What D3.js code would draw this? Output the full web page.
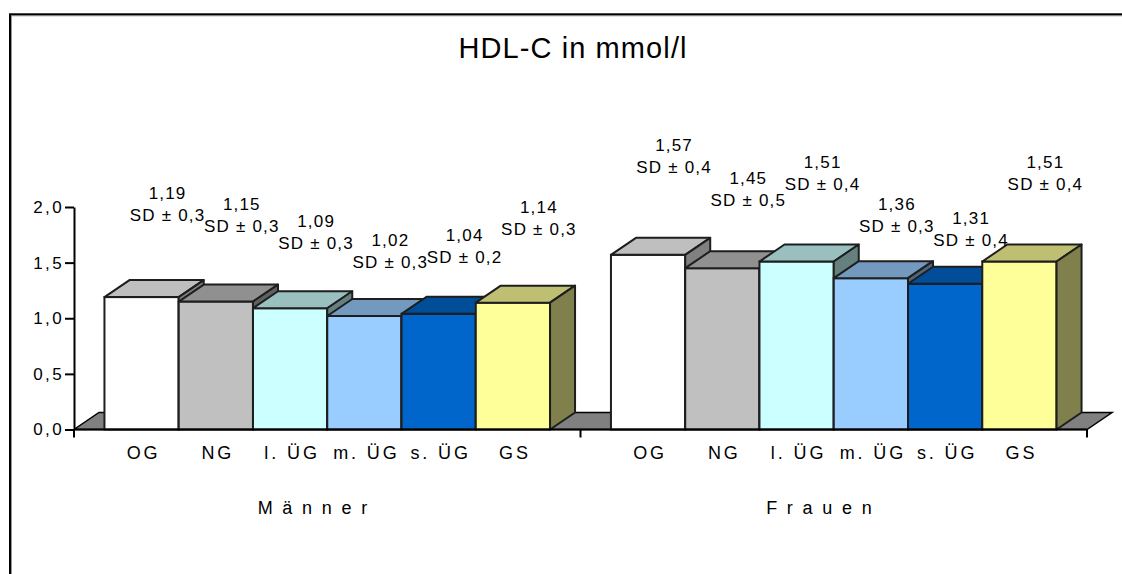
<!DOCTYPE html>
<html>
<head>
<meta charset="utf-8">
<title>HDL-C in mmol/l</title>
<script src="https://cdn.jsdelivr.net/npm/d3@7"></script>
<style>
	body { margin: 0; background: #fff; }
	svg text { font-family: "Liberation Sans", Arial, sans-serif; fill: #000; }
</style>
</head>
<body>
<svg id="chart" width="1122" height="574"></svg>
<script>
	// data
	var title = "HDL-C in mmol/l";
	var groups = ["Männer", "Frauen"];
	var categories = ["OG", "NG", "l. ÜG", "m. ÜG", "s. ÜG", "GS"];
	var menValues = [1.19, 1.15, 1.09, 1.02, 1.04, 1.14];
	var menSD = [0.3, 0.3, 0.3, 0.3, 0.2, 0.3];
	var womenValues = [1.57, 1.45, 1.51, 1.36, 1.31, 1.51];
	var womenSD = [0.4, 0.5, 0.4, 0.3, 0.4, 0.4];
	var yTicks = [0, 0.5, 1.0, 1.5, 2.0];

	var fronts = ["#FFFFFF", "#C0C0C0", "#CCFFFF", "#99CCFF", "#0066CC", "#FFFF99"];

	var values = [menValues, womenValues];
	var sds = [menSD, womenSD];

	// 3d depth of the bars
	var dx = 25, dy = 17;
	var edge = "#1e1e1e";

	var svg = d3.select("#chart");

	// frame
	svg.append("rect").attr("x", 11.5).attr("y", 15.8).attr("width", 1200).attr("height", 700)
		.attr("fill", "none").attr("stroke", "#999").attr("stroke-width", 1);
	svg.append("rect").attr("x", 10).attr("y", 14.3).attr("width", 1200).attr("height", 700)
		.attr("fill", "none").attr("stroke", "#000").attr("stroke-width", 2);

	var x0 = d3.scaleBand().domain(groups).range([74, 1087]).padding(0);
	var x1 = d3.scaleBand().domain(categories).range([0, x0.bandwidth()]).paddingInner(0).paddingOuter(0.41);
	var y = d3.scaleLinear().domain([0, 2]).range([429.5, 207]);

	function shade(c, k) {
		var r = d3.rgb(c);
		return d3.rgb(r.r * k, r.g * k, r.b * k).formatHex();
	}
	function fmt(v, n) { return d3.format("." + n + "f")(v).replace(".", ","); }

	// floor
	var fx0 = x0.range()[0], fx1 = x0.range()[1], fy = y(0);
	svg.append("path")
		.attr("d", "M" + fx0 + "," + fy + "L" + fx1 + "," + fy + "L" + (fx1 + dx) + "," + (fy - dy) +
			"L" + (fx0 + dx) + "," + (fy - dy) + "Z")
		.attr("fill", "#808080").attr("stroke", "#000").attr("stroke-width", 1.5);

	// bars
	var bars = [];
	groups.forEach(function(g, gi) {
		var mean = d3.mean(values[gi]);
		categories.forEach(function(c, ci) {
			bars.push({group: g, cat: c, ci: ci, v: values[gi][ci], sd: sds[gi][ci], mean: mean});
		});
	});

	var bar = svg.selectAll(".bar").data(bars).enter().append("g").attr("class", "bar");

	bar.each(function(d) {
		var g = d3.select(this);
		var x = x0(d.group) + x1(d.cat), w = x1.bandwidth();
		var yt = y(d.v), yb = y(0);
		g.append("rect").attr("x", x).attr("y", yt).attr("width", w).attr("height", yb - yt)
			.attr("fill", fronts[d.ci]).attr("stroke", edge).attr("stroke-width", 2);
		g.append("path")
			.attr("d", "M" + x + "," + yt + "L" + (x + dx) + "," + (yt - dy) + "L" + (x + w + dx) + "," + (yt - dy) +
				"L" + (x + w) + "," + yt + "Z")
			.attr("fill", shade(fronts[d.ci], 0.75)).attr("stroke", edge).attr("stroke-width", 2)
			.attr("stroke-linejoin", "round");
		g.append("path")
			.attr("d", "M" + (x + w) + "," + yt + "L" + (x + w + dx) + "," + (yt - dy) + "L" + (x + w + dx) + "," + (yb - dy) +
				"L" + (x + w) + "," + yb + "Z")
			.attr("fill", shade(fronts[d.ci], 0.5)).attr("stroke", edge).attr("stroke-width", 2)
			.attr("stroke-linejoin", "round");
	});

	// y axis
	var yAxis = svg.append("g").attr("transform", "translate(74,0)")
		.call(d3.axisLeft(y).tickValues(yTicks).tickSize(9).tickSizeOuter(0).tickFormat(function(d) { return fmt(d, 1); }));
	yAxis.select(".domain").attr("stroke", "#000").attr("stroke-width", 2);
	yAxis.selectAll(".tick line").attr("stroke", "#000").attr("stroke-width", 2);
	yAxis.selectAll(".tick text").attr("x", -10).attr("font-size", 17).attr("letter-spacing", 2.4)
		.style("font-family", "'Liberation Sans', Arial, sans-serif");

	// x axis
	svg.append("line").attr("x1", 74).attr("x2", 1087).attr("y1", y(0)).attr("y2", y(0))
		.attr("stroke", "#000").attr("stroke-width", 2);
	var bounds = groups.map(function(g) { return x0(g); }).concat([x0.range()[1]]);
	svg.selectAll(".xtick").data(bounds).enter().append("line")
		.attr("x1", function(d) { return d; }).attr("x2", function(d) { return d; })
		.attr("y1", y(0)).attr("y2", y(0) + 8)
		.attr("stroke", "#000").attr("stroke-width", 2);

	// category labels
	svg.selectAll(".cat").data(bars).enter().append("text")
		.attr("x", function(d) { return x0(d.group) + x1(d.cat) + x1.bandwidth() / 2 + 2; })
		.attr("y", 459)
		.attr("text-anchor", "middle").attr("font-size", 18).attr("letter-spacing", 2.9)
		.text(function(d) { return d.cat; });

	// group labels
	svg.selectAll(".grp").data(groups).enter().append("text")
		.attr("x", function(d) { return x0(d) + x0.bandwidth() / 2 - 10; })
		.attr("y", 514)
		.attr("text-anchor", "middle").attr("font-size", 18).attr("letter-spacing", 9.7)
		.text(function(d) { return d; });

	// value labels: above the bar top, spread a little more than the bars within each group
	function labelY(d) { return y(d.v) - 68 - 170 * (d.v - d.mean); }
	var lab = svg.selectAll(".lab").data(bars).enter().append("text")
		.attr("text-anchor", "middle").attr("font-size", 17).attr("letter-spacing", 1.2);
	lab.append("tspan")
		.attr("x", function(d) { return x0(d.group) + x1(d.cat) + x1.bandwidth() / 2 + dx + 1; })
		.attr("y", function(d) { return labelY(d) - 22 + 6; })
		.text(function(d) { return fmt(d.v, 2); });
	lab.append("tspan")
		.attr("x", function(d) { return x0(d.group) + x1(d.cat) + x1.bandwidth() / 2 + dx + 1; })
		.attr("y", function(d) { return labelY(d) + 6; })
		.text(function(d) { return "SD ± " + fmt(d.sd, 1); });

	// title
	svg.append("text").attr("x", 573).attr("y", 58).attr("text-anchor", "middle")
		.attr("font-size", 29).attr("letter-spacing", 1.1).text(title);
</script>
</body>
</html>
